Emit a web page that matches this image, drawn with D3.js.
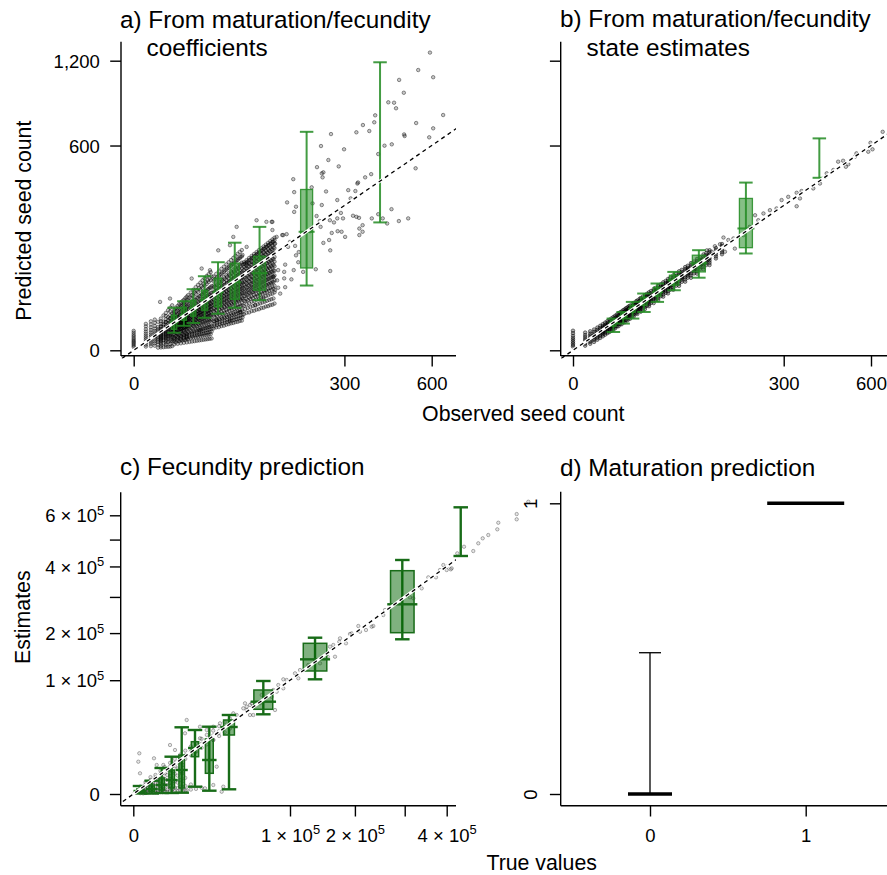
<!DOCTYPE html>
<html><head><meta charset="utf-8">
<script src="https://cdn.jsdelivr.net/npm/d3@7"></script>
<style>
html,body{margin:0;padding:0;background:#fff;}
svg{display:block;}
text{font-family:"Liberation Sans",Arial,Helvetica,sans-serif;}
</style></head><body>
<svg id="chart" width="887" height="875"></svg>
<script>
// ================= DATA =================
const titleA = ["a) From maturation/fecundity", "coefficients"];
const titleB = ["b) From maturation/fecundity", "state estimates"];
const titleC = "c) Fecundity prediction";
const titleD = "d) Maturation prediction";
const labelYTop = "Predicted seed count";
const labelXTop = "Observed seed count";
const labelYBottom = "Estimates";
const labelXBottom = "True values";

const ticksSeedX = [0, 300, 600];
const tickLabelsSeedX = ["0", "300", "600"];
const ticksSeedY = [0, 600, 1200];
const tickLabelsSeedY = ["0", "600", "1,200"];
const ticksTrueX = [0, 1e5, 2e5, 3e5, 4e5];
const tickMantTrueX = [0, 1, 2, null, 4];
const ticksEstY = [0, 1e5, 2e5, 3e5, 4e5, 5e5, 6e5];
const tickMantEstY = [0, 1, 2, null, 4, null, 6];
const ticksMat = [0, 1];
const tickLabelsMat = ["0", "1"];

// ---- panel a: observed vs predicted (coefficients) ----
const cloudObsA = [0,1,2,3,4,5,6,7,8,9,10,11,12,13,14,15,16,17,18,19,20,22,24,26,28,30,32,34,36,38,40,43,46,49,52,55,58,61,64,67,70,73,76,79,82,86,90,94,98,102,106,110,114,118,122,126,130,134];
const cloudPredA = [
[0.15,0.3,0.5,0.75,1,1.3,1.7,2.2,2.8,3.5,4.4,5.4],
[0.2,0.45,0.8,1.2,1.7,2.3,3,3.9,5,6.4,8.2,10],
[0.25,0.6,1,1.5,2.1,2.8,3.6,4.6,5.9,7.5,9.6,12],
[0.3,0.7,1.2,1.8,2.5,3.3,4.2,5.3,6.7,8.5,10.8,13.5],
[0.1,0.5,1,1.45,2,2.6,3.2,4.1,5.3,6.4,7.8,11.6],
[0.12,0.6,1.3,1.8,2.4,3.2,4,5.1,6.5,8.1,9.9,14.4],
[0.14,0.75,1.5,2.2,2.9,3.8,4.9,6,7.9,9.6,11.7,17.4],
[0.17,0.85,1.7,2.5,3.5,4.5,5.6,7.1,9.2,11.3,13.8,20],
[0.18,1,2,2.9,3.9,5.1,6.5,8,10.5,12.8,15.6,23],
[0.2,1.1,2.2,3.2,4.4,5.8,7.3,9.1,11.8,14.4,17.7,26],
[0.25,1.2,2.5,3.6,4.9,6.4,8.1,10,13.3,16.2,19.5,29],
[1.1,2.4,3.9,4.8,6.1,7.2,8,9.3,10.4,11.7,13.1,15.6,19.2,23.5],
[0.9,2.9,4.4,5.3,6.4,7.7,8.8,9.9,11.2,12.6,14.8,17.1,21.4,26],
[1.3,2.6,4.1,5.9,6.8,7.9,9.4,10.5,12,13.3,15.9,18.4,22.8,28.1],
[1.2,3.3,4.9,6.1,7.4,8.6,9.7,11.3,12.6,14.5,16.7,20.2,24.9,30.4],
[1.5,3,5.2,6.6,7.6,9.1,10.5,11.8,13.6,15.2,17.9,21,26.2,32.5],
[1.4,3.8,5.5,6.9,8.3,9.6,11,12.7,14.3,16.4,18.6,22.9,28.3,34.6],
[1.7,3.5,5.9,7.4,8.8,10.2,11.9,13.2,15.3,17.4,19.8,24.1,29.7,36.4],
[1.5,4.2,6.2,7.9,9.2,10.9,12.3,14.1,16.2,18.3,21.2,25.6,31.8,38.9],
[1.9,4,6.7,8.2,9.8,11.4,13,14.9,16.9,19.6,22.3,27,33.1,41.2],
[1.8,4.7,6.9,8.7,10.1,12,13.8,15.5,17.9,20.4,23.6,28.4,35.2,43.5],
[2.1,5.2,7.4,9.6,11.3,13.1,15,17.1,19.6,22.5,25.9,31,38.4,47.8],
[2.3,5.4,8.3,10.4,12.1,14.4,16.6,18.5,21.5,24.4,28.3,34.1,42.2,52.4],
[2.4,6.2,8.9,11.1,13.2,15.5,17.7,20.2,23.1,26.6,30.4,36.5,45.6,57.1],
[2.6,6.5,9.8,12.1,14.3,16.6,19.2,21.6,25,28.5,33,39.6,49,61.3],
[2.8,7.2,10.4,12.8,15.4,17.9,20.4,23.3,26.6,30.7,35.2,42.1,52.8,65.5],
[3,7.4,11.2,13.9,16.3,19.1,21.9,24.8,28.6,32.6,37.7,45.2,56,70],
[3.2,8.1,11.7,14.6,17.5,20.2,23.1,26.5,30.2,34.8,39.9,47.9,59.8,74.3],
[3.3,8.4,12.6,15.6,18.4,21.6,24.6,27.9,32.2,36.8,42.4,50.9,63.1,78.9],
[3.5,9.1,13.1,16.3,19.6,22.7,26,29.7,33.9,38.9,44.6,53.6,66.8,83],
[3.7,9.4,14,17.3,20.5,24,27.5,31.1,35.8,40.8,47.1,56.5,70.2,87.5],
[6.8,12.1,17.2,21.4,25.3,29,33.1,37.2,41.8,46.5,52.3,60.1,68.9,78],
[7.5,13.6,18.1,22.9,26.8,31.1,35.2,39.6,44.7,49.8,55.6,64,73.5,83.5],
[7.7,14.2,19.8,24.1,28.7,33,37.6,42.3,47.4,53.1,59.4,67.8,78.2,89],
[8.4,15.5,20.8,25.8,30.2,35.2,39.8,44.9,50.6,56.2,63,72.1,82.8,95],
[8.7,16.1,22.3,27.1,32.2,37,42.3,47.6,53.3,59.6,66.7,76.3,87.9,100],
[9.4,17.4,23.2,28.9,33.8,39.3,44.6,50.1,56.4,62.8,70.4,80.6,92.6,105.5],
[9.8,18,24.9,30.2,35.7,41.2,47,52.8,59.2,66.1,74,84.6,97.4,111],
[10.4,19.3,25.8,32,37.4,43.4,49.2,55.4,62.2,69.4,77.7,88.9,102,116.5],
[10.7,19.8,27.4,33.2,39.3,45.3,51.7,58,65.2,72.7,81.3,93,107,122],
[11.4,21.2,28.3,35,41,47.5,53.9,60.7,68.1,75.9,85,97.2,111.7,127.5],
[11.6,21.7,29.8,36.3,42.9,49.4,56.3,63.2,71,79.2,88.6,101.3,116.5,133],
[12.3,23,30.8,38.1,44.6,51.6,58.5,66,74,82.5,92.3,105.6,121.3,138.4],
[12.6,23.5,32.4,39.4,46.5,53.5,61,68.6,76.9,85.8,96,109.7,126.2,143.8],
[18.6,28.1,35.2,41.9,48.2,54.7,61.3,68.8,76.3,84.1,91.9,99.6,106.3,111],
[20.1,30.4,37.6,44.1,50.5,57.2,64.1,71.4,79.7,87.6,95.9,103.8,111.2,116.2],
[20.5,31.5,39.8,46.9,53.3,60.4,67.6,75.2,83.4,92,100.6,109,116.4,122],
[22,33.8,41.5,48.6,55.9,62.8,70.5,78.7,87.2,95.8,104.7,113.5,121.6,127.3],
[22.4,34.5,43.6,51,58.1,65.8,73.4,81.8,90.9,100,109.3,118.4,126.7,132.8],
[23.7,36.6,45.1,53.2,60.8,68.4,76.6,85.2,94.6,104,113.6,123,131.8,138],
[24.1,37.2,47.2,55.1,63,71.3,79.5,88.5,98.3,108.2,118.2,128,137.2,143.6],
[25.6,39.3,48.6,57.5,65.7,73.9,82.7,92,102,112.1,122.5,132.7,142.2,148.8],
[26,40.1,50.8,59.4,67.9,76.8,85.6,95.3,105.8,116.3,127.1,137.6,147.5,154.3],
[27.5,42.2,52.1,61.7,70.5,79.3,88.7,98.8,109.5,120.4,131.5,142.4,152.6,159.6],
[27.9,43,54.6,63.6,72.8,82.3,91.7,102,113.3,124.6,136,147.3,157.8,165.1],
[29.3,45.2,55.8,66,75.4,84.8,95,105.7,117,128.7,140.5,152.1,163,170.5],
[29.8,45.9,58.2,67.8,77.6,87.7,97.8,108.8,120.8,132.8,145,157,168.2,176],
[31.3,48.1,59.5,70.2,80.2,90.2,101,112.5,124.5,136.9,149.5,161.9,173.4,181.4]
];
// second pass of panel-a observations filling the gaps of the dense band
const cloudObsA2 = [5,7,9,11,13,15,17,19,21,23,25,27,29,31,33,35,37,39,41,44,47,50,53,56,59,62,65,68,71,74,77,80,84,88,92,96,100,104,108,112,116,120,124,128,132];
const cloudPredA2 = [
[0.3,0.9,1.5,2.1,2.8,3.6,4.5,5.8,8.1,12],
[0.44,1.26,2.1,3,3.9,5.1,6.3,8.1,11.4,16.8],
[0.56,1.6,2.7,3.8,5.1,6.5,8.1,10.4,14.6,21.6],
[0.5,1.35,1.8,2.2,3.5,4.9,6.4,7.7,9,10.6,12.6,15.8,20.9],
[0.6,1.6,2.1,2.6,4.1,5.8,7.5,9.1,10.6,12.5,14.9,18.7,24.8],
[0.7,1.8,2.4,3,4.7,6.7,8.7,10.5,12.3,14.4,17.2,21.6,28.6],
[0.8,2.1,2.7,3.4,5.3,7.6,9.8,11.8,13.9,16.3,19.5,24.5,32.4],
[0.9,2.3,3,3.8,6,8.5,11,13.2,15.6,18.2,21.8,27.4,36.2],
[1,2.6,3.4,4.3,6.6,9.4,12.1,14.6,17.2,20.2,24,30.2,40],
[1.1,2.8,3.7,4.7,7.2,10.3,13.3,16,18.8,22.1,26.3,33.1,43.8],
[1.2,3.1,4,5.1,7.9,11.2,14.5,17.4,20.5,24,28.6,36,47.6],
[1.3,3.3,4.3,5.5,8.5,12.1,15.6,18.8,22.1,25.9,30.9,38.9,51.4],
[1.4,3.6,4.6,5.9,9.1,13,16.8,20.2,23.8,27.8,33.2,41.8,55.2],
[1.5,3.8,5,6.3,9.7,13.9,17.9,21.6,25.4,29.8,35.5,44.6,59],
[1.6,4,5.3,6.7,10.4,14.8,19.1,23,27,31.7,37.8,47.5,62.8],
[1.7,4.3,5.6,7.1,11,15.7,20.2,24.4,28.7,33.6,40.1,50.4,66.6],
[1.8,4.5,5.9,7.5,11.6,16.6,21.4,25.8,30.3,35.5,42.4,53.3,70.4],
[1.9,4.8,6.2,7.9,12.2,17.5,22.5,27.2,31.9,37.4,44.7,56.2,74.3],
[2,5,6.6,8.3,12.9,18.4,23.7,28.6,33.6,39.4,46.9,59,78.1],
[8.5,9.9,11.9,15.8,20.9,25.7,30.7,36,41.8,48.5,57.7,71.5],
[9.1,10.6,12.7,16.9,22.4,27.5,32.8,38.5,44.7,51.8,61.6,76.4],
[9.7,11.3,13.5,18,23.8,29.3,34.9,41,47.6,55.1,65.6,81.3],
[10.3,12,14.3,19.1,25.2,31,36.9,43.4,50.4,58.4,69.5,86.2],
[10.9,12.7,15.1,20.2,26.7,32.8,39,45.9,53.3,61.7,73.4,91.1],
[11.4,13.3,15.9,21.2,28.1,34.5,41.1,48.3,56.1,65,77.3,95.9],
[12,14,16.7,22.3,29.5,36.3,43.2,50.8,59,68.4,81.3,100.8],
[12.6,14.7,17.6,23.4,30.9,38,45.3,53.2,61.8,71.7,85.2,105.7],
[13.2,15.4,18.4,24.5,32.4,39.8,47.4,55.7,64.7,75,89.1,110.6],
[13.8,16,19.2,25.6,33.8,41.5,49.5,58.1,67.5,78.3,93.1,115.4],
[14.4,16.7,20,26.6,35.2,43.3,51.6,60.6,70.4,81.6,97,120.3],
[14.9,17.4,20.8,27.7,36.7,45,53.7,63.1,73.2,84.9,100.9,125.2],
[15.5,18.1,21.6,28.8,38.1,46.8,55.8,65.5,76.1,88.2,104.9,130.1],
[24.5,34.4,42.3,49.8,57.9,66.5,75.8,85.7,96.2,107.3],
[25.7,36,44.4,52.2,60.6,69.7,79.4,89.8,100.8,112.4],
[26.8,37.7,46.4,54.5,63.4,72.9,83,93.8,105.3,117.5],
[28,39.3,48.4,56.9,66.1,76,86.6,97.9,109.9,122.6],
[29.2,41,50.4,59.3,68.9,79.2,90.3,102,114.5,127.7],
[30.3,42.6,52.4,61.7,71.6,82.4,93.9,106.1,119.1,132.8],
[31.5,44.2,54.4,64,74.4,85.5,97.5,110.2,123.6,137.9],
[32.7,45.9,56.5,66.4,77.2,88.7,101.1,114.3,128.2,143],
[33.8,47.5,58.5,68.8,79.9,91.9,104.7,118.3,132.8,148.1],
[35,49.2,60.5,71.1,82.7,95.1,108.3,122.4,137.4,153.2],
[36.2,50.8,62.5,73.5,85.4,98.2,111.9,126.5,142,158.3],
[37.3,52.4,64.5,75.9,88.2,101.4,115.5,130.6,146.5,163.4],
[38.5,54.1,66.5,78.3,90.9,104.6,119.1,134.7,151.1,168.6]
];
const sparseA = [
[593,1268],[547,1124],[606,1067],[476,1046],[493,949],[438,880],[458,877],[465,838],[394,790],[391,744],[647,792],[539,739],[606,705],[355,726],[375,688],[335,680],[263,669],[494,667],[496,657],[590,649],[237,597],[299,578],[425,599],[450,607],[256,518],[284,484],[227,480],[239,448],[243,453],[241,428],[537,474],[404,551],[172,419],[340,403],[362,428],[381,444],[250,361],[311,367],[332,363],[338,398],[174,358],[280,323],[318,330],[159,313],[178,295],[239,302],[449,285],[475,239],[509,249],[290,270],[280,249],[296,249],[260,242],[271,234],[325,259],[335,255],[343,251],[354,224],[344,212],[281,203],[292,201],[265,197],[354,201],[302,184],[344,190],[243,165],[258,174],[261,143],[261,90],[224,94],[383,249],[404,265],[419,249],[434,230],[234,239],[226,258],[216,309],[214,380],[174,274],[210,203],[236,218],[149,190],[158,193],[138,184],[130,236],[130,207],[135,163],[165,168],[161,153],[176,156],[178,129],[184,138],[183,111],[173,92],[194,88],[155,105],[153,88],[141,92],[132,77],[153,74],[139,70],[168,72],[141,56],[155,57],[135,52],[145,46],
[4.7,33.5],[8.9,38.3],[22.7,73.7],[31.2,95.7],[39.3,91.8],[48.3,143],[62.6,158],[67,184],[71.6,218],[86.2,153],[102,242],[119,236],[128.6,236],[151,190],[86.2,108],[76.3,21],[99.4,29],[113.4,38.3],[46.5,12.9],[29.7,5.7],[19,2.5],[62.6,12.9]
];
const binObsA = [11, 17, 24, 34, 48, 69, 107, 202, 410];
const loA  = [4.4, 8.6, 10.7, 15.1, 19.1, 25.9, 35.9, 60, 234];
const q1A  = [6.3, 12.9, 16.6, 22.9, 27.1, 37.3, 51.6, 97, null];
const medA = [11.2, 17.6, 25.3, 35.9, 48.2, 66.3, 85, 201, null];
const q3A  = [17.6, 26.5, 35.9, 51.6, 74.4, 108.6, 126.7, 370, null];
const hiA  = [25.9, 34.4, 53.4, 78.5, 111, 165.7, 218, 683, 1187];

// ---- panel b: observed vs predicted (state estimates) ----
const cloudObsB = [0,1,2,3,4,5,6,7,8,9,10,11,12,14,16,18,20,22,25,28,31,35,39,44,49,55,61,68,76,85,94,104,115,126,138,150];
const cloudPredB = [
[0.2,0.4,0.7,1.1,1.6,2.2,3,4.2,5.5],
[0.3,0.6,0.9,1.3,1.8,2.5,3.3,4.5],
[0.6,1,1.4,1.9,2.5,3.2,4,5.2],
[1,1.5,2,2.6,3.2,4,4.9,6.2],
[1.6,2.2,2.8,3.5,4.2,5,6,7.4],
[2.2,2.9,3.6,4.4,5.2,6.1,7.2,8.6],
[2.8,3.6,4.4,5.3,6.2,7.2,8.4,9.8],
[3.5,4.4,5.3,6.2,7.2,8.3,9.5,11],
[4.2,5.1,6.1,7.1,8.2,9.4,10.7,12.2],
[4.8,5.9,6.9,8,9.2,10.4,11.8,13.4],
[5.5,6.6,7.8,8.9,10.2,11.5,12.9,14.6],
[6.2,7.4,8.6,9.9,11.2,12.5,14,15.8],
[6.9,8.1,9.4,10.8,12.1,13.6,15.1,17],
[8.3,9.7,11.1,12.6,14.1,15.7,17.3,19.3],
[9.7,11.3,12.8,14.5,16.1,17.8,19.6,21.6],
[11.2,12.9,14.6,16.3,18.1,19.9,21.8,24],
[12.7,14.5,16.3,18.2,20.1,22,24,26.3],
[14.2,16.1,18.1,20,22.1,24.1,26.2,28.6],
[16.5,18.6,20.7,22.9,25.1,27.3,29.6,32.1],
[18.9,21.1,23.4,25.8,28.1,30.5,32.9,35.6],
[21.3,23.7,26.1,28.6,31.1,33.6,36.2,39],
[24.5,27.1,29.7,32.4,35.1,37.8,40.6,43.6],
[27.8,30.5,33.3,36.2,39.1,42,45,48.1],
[31.9,34.9,37.9,41,44.1,47.2,50.4,53.7],
[36.1,39.3,42.5,45.8,49.1,52.5,55.9,59.4],
[41.2,44.6,48.1,51.6,55.2,58.8,62.4,66.2],
[46.3,50,53.7,57.4,61.2,65,68.9,72.9],
[52.4,56.3,60.2,64.1,68.2,72.2,76.3,80.6],
[59.4,63.5,67.7,71.9,76.2,80.5,84.8,89.3],
[67.3,71.7,76.2,80.6,85.2,89.8,94.4,99.1],
[75.2,79.9,84.6,89.3,94.1,99,103.8,108.8],
[84.1,89.1,94.1,99.1,104.2,109.3,114.4,119.7],
[94,99.3,104.6,109.9,115.2,120.6,126,131.6],
[104,109.5,115,120.6,126.2,131.8,137.5,143.3],
[120.6,126.3,132,137.8,143.6,149.4],
[131.9,137.7,143.6,149.6,155.6,161.6]
];
const cloudObsB2 = [13,15,17,19,21,24,27,30,33,37,41,46,52,58,64,72,80,89,99,109,120];
const cloudPredB2 = [
[8.16,9.65,10.93,12.15,13.37,14.64,16.21,18.37],
[9.75,11.38,12.77,14.09,15.39,16.75,18.43,20.73],
[11.38,13.13,14.62,16.02,17.41,18.86,20.64,23.07],
[13.02,14.89,16.48,17.97,19.44,20.97,22.84,25.39],
[14.69,16.67,18.34,19.92,21.46,23.07,25.03,27.7],
[17.21,19.35,21.15,22.84,24.49,26.2,28.29,31.13],
[19.77,22.05,23.97,25.77,27.52,29.33,31.54,34.53],
[22.34,24.77,26.8,28.7,30.55,32.46,34.77,37.91],
[24.95,27.51,29.65,31.64,33.58,35.58,38.01,41.28],
[28.44,31.17,33.44,35.56,37.61,39.73,42.29,45.74],
[31.96,34.85,37.25,39.48,41.64,43.86,46.55,50.17],
[36.39,39.46,42.02,44.38,46.68,49.03,51.87,55.68],
[41.74,45.04,47.76,50.28,52.72,55.22,58.23,62.27],
[47.14,50.64,53.52,56.19,58.77,61.4,64.58,68.82],
[52.56,56.25,59.29,62.09,64.8,67.57,70.9,75.34],
[59.83,63.76,66.99,69.97,72.85,75.78,79.3,84],
[67.14,71.3,74.72,77.86,80.89,83.98,87.68,92.62],
[75.41,79.82,83.43,86.75,89.95,93.2,97.1,102.3],
[84.64,89.3,93.12,96.63,100,103.4,107.5,113],
[93.9,98.8,102.8,106.5,110,113.6,117.9,123.7],
[104.1,109.3,113.5,117.4,121.1,124.9,129.4,135.4]
];
const cloudObsB3 = [6,8,10,13,16,20,24,29,34,40,47,54,62,71,80,90,100,112,124];
const cloudPredB3 = [
[4.84,5.52,6.25,7.02],[6.65,7.44,8.28,9.17],[8.48,9.38,10.32,11.3],[11.26,12.29,13.37,14.49],
[14.06,15.21,16.4,17.64],[17.83,19.11,20.45,21.83],[21.61,23.03,24.49,26],[26.37,27.93,29.54,31.19],
[31.15,32.84,34.59,36.37],[36.9,38.75,40.64,42.58],[43.64,45.64,47.69,49.79],[50.38,52.53,54.73,56.97],
[58.13,60.44,62.79,65.19],[66.85,69.32,71.84,74.41],[75.59,78.22,80.89,83.61],[85.32,88.12,90.95,93.84],
[95.06,98.01,101,104],[106.8,109.9,113.1,116.3],[118.5,121.8,125.1,128.5]
];
const sparseB = [
[648,683],[598,616],[606,578],[589,564],[543,555],[537,536],[493,514],[475,509],[512,495],[503,482],[458,465],[435,448],[390,375],[412,398],[353,363],[338,355],[348,330],[338,297],[313,337],[294,323],[280,288],[262,281],[245,268],[232,242],[224,261],[211,218],[196,190],[174,179],[163,174],[153,182],[146,161],[136,155],[130,139],[121,143],[177,148],[156,139]
];
const binObsB = [11, 17, 24, 34, 48, 69, 107, 202, 410];
const loB  = [4.8, 10.2, 14.4, 21.0, 33.5, 51.6, 75.4, 134.1, 425.8];
const q1B  = [8.3, 14.2, 20.7, 29.0, 41.8, 60.6, 87.9, 150.7, null];
const medB = [11.0, 16.6, 24.7, 34.4, 48.2, 70.3, 108.6, 212.4, null];
const q3B  = [12.9, 19.1, 29.0, 40.3, 56.9, 80.7, 129.4, 330, null];
const hiB  = [14.4, 21.0, 33.5, 46.1, 63.8, 87.9, 143.4, 402.5, 642.6];

// ---- panel c: fecundity true vs estimates ----
const cloudObsC = [200,400,600,900,1200,1600,2000,2500,3000,3500,4000,4700,5500,6200,7000,8000,9000,10000,11000,13500,16000,19000,22000,26000,30000,34000,38000];
const cloudPredC = [
[5,30,120,260,450],
[3,20,80,200,350],
[10,60,200,450,700,1100],
[8,40,150,350,600,900],
[15,90,300,700,1100,1500,2200],
[12,60,250,600,1000,1500],
[20,120,400,900,1600,2100,2800],
[18,90,350,800,1500,2300],
[30,150,500,1300,2400,3100,4200],
[25,120,450,1100,2000,3300],
[40,200,700,1800,3300,4200,5600],
[35,160,600,1500,2800,4500],
[50,250,900,2500,4500,5800,7500],
[45,220,800,2000,3800,6000],
[60,300,1200,3200,6000,7400,9500],
[60,280,1000,2600,5000,7800],
[80,400,1500,4000,7800,9500,12000],
[70,350,1300,3300,6500,9800],
[100,500,2000,9500,11500,14500],
[150,700,11800,14000,17500],
[200,13800,16500,20000],
[300,16500,19500,23500],
[19000,22500,27000],
[22500,26500,31000],
[26000,30500,35500],
[29500,34500,40000],
[33000,38500,44000]
];
const sparseC = [
[635500,659800],[598600,605400],[598600,582800],[542600,568400],[539600,541100],[513200,518100],[497200,505000],[484700,485400],[470700,456000],[445400,472300],[427500,447400],[412800,393400],[399900,399000],[391400,405000],[399900,387500],[410300,389900],[383000,387500],[373100,362600],[354400,362600],[338700,326700],[319300,295800],[311800,298800],[258000,261500],[254500,247400],[234600,218000],[231400,216200],[220500,207700],[206200,218000],[209300,203400],[191200,197700],[194200,199400],[184200,175400],[174000,187200],[172800,179100],[162900,171500],[157600,167600],[165700,145600],[153900,145600],[142000,131900],[134400,138700],[124700,128500],[113200,118700],[106500,112500],[110900,103400],[95850,100400],[91630,101600],[85620,91750],[83750,80830],[79810,83520],[78010,73120],[91630,86260],[81800,54480],[67130,75680],[65380,63550],[57070,63550],[55460,61160],[50810,63550],[52350,54480],[58660,48180],[55460,48180],[49280,56740],[40720,50310],[43550,48180],[52350,58850],
[147,12790],[102,8060],[183,3310],[1745,9840],[2230,6500],[5490,18540],[3665,6500],[7080,14950],[11610,42290],[10890,28450],[15500,13820],[18120,34980],[21940,31630],[26060,22520],[29420,28450],[30610,38600],[26060,34980],[28330,5755],[18120,23960],[9540,3310],[11610,124],[31820,41],[26060,625],[20930,251],[32980,412]
];
const binObsC = [183, 1379, 3284, 6006, 9542, 15500, 23530, 37300, 68840, 134500, 294700, 436600];
const loC  = [2, 2, 8, 8, 13, 412, 84, 171, 49070, 101600, 184900, 437600];
const q1C  = [17, 48, 124, 278, 278, 10750, 3310, 26890, 55420, 116900, 201000, null];
const medC = [70, 193, 626, 1514, 4449, 16340, 8930, 34680, 65800, 140100, 278000, null];
const q3C  = [193, 626, 1978, 4449, 11750, 21130, 23370, 42300, 83540, 175400, 385200, null];
const hiC  = [494, 1367, 5222, 10750, 34370, 31640, 34980, 48210, 98640, 188700, 423000, 634900];

// ---- panel d: maturation ----
const matGroups = [0, 1];
const matMedian = [0, 1];
const matUpper = [0.486, null];

// ================= DRAWING =================
const svg = d3.select("#chart");
const defs = svg.append("defs");
const FS_TICK = 18.5, FS_LAB = 21.3, FS_TITLE = 24.3, AXW = 1.4, TICK = 10.8;

function addClip(id, x0, y0, x1, y1) {
  defs.append("clipPath").attr("id", id).append("rect")
    .attr("x", x0).attr("y", y0).attr("width", x1 - x0).attr("height", y1 - y0);
}
const flatten = (obs, preds) => obs.flatMap((o, i) => preds[i].map(p => [o, p]));

function pointsLayer(g, xs, ys, pts, st) {
  g.append("g").selectAll("circle").data(pts).join("circle")
    .attr("cx", d => xs(d[0])).attr("cy", d => ys(d[1])).attr("r", st.r)
    .attr("fill", st.fill).attr("stroke", st.stroke).attr("stroke-width", st.sw);
}

function boxesLayer(g, xs, ys, obs, lo, q1, med, q3, hi, st) {
  const px = obs.map(o => xs(o));
  const bins = obs.map((o, i) => {
    const gaps = [];
    if (i > 0) gaps.push(px[i] - px[i - 1]);
    if (i < px.length - 1) gaps.push(px[i + 1] - px[i]);
    return {x: px[i], w: Math.min(st.maxW, st.frac * Math.min(...gaps)),
            lo: lo[i], q1: q1[i], med: med[i], q3: q3[i], hi: hi[i]};
  });
  const gb = g.append("g");
  gb.selectAll("line.wh").data(bins).join("line").attr("class", "wh")
    .attr("x1", d => d.x).attr("x2", d => d.x)
    .attr("y1", d => ys(d.lo)).attr("y2", d => ys(d.hi))
    .attr("stroke", st.stroke).attr("stroke-width", st.whW);
  const wb = bins.filter(d => d.q1 != null);
  gb.selectAll("rect.bx").data(wb).join("rect").attr("class", "bx")
    .attr("x", d => d.x - d.w / 2).attr("width", d => d.w)
    .attr("y", d => ys(d.q3)).attr("height", d => ys(d.q1) - ys(d.q3))
    .attr("fill", st.fill).attr("stroke", st.stroke).attr("stroke-width", st.boxW);
  gb.selectAll("line.md").data(wb).join("line").attr("class", "md")
    .attr("x1", d => d.x - d.w / 2 - st.medExt).attr("x2", d => d.x + d.w / 2 + st.medExt)
    .attr("y1", d => ys(d.med)).attr("y2", d => ys(d.med))
    .attr("stroke", st.stroke).attr("stroke-width", st.medW);
  const caps = bins.flatMap(d => [{x: d.x, v: d.lo}, {x: d.x, v: d.hi}]);
  gb.selectAll("line.cp").data(caps).join("line").attr("class", "cp")
    .attr("x1", d => d.x - st.capW / 2).attr("x2", d => d.x + st.capW / 2)
    .attr("y1", d => ys(d.v)).attr("y2", d => ys(d.v))
    .attr("stroke", st.stroke).attr("stroke-width", st.whW);
}

function diagLine(g, xs, ys, clipId, vmin, vmax) {
  const line = d3.line().x(d => xs(d)).y(d => ys(d));
  const gl = g.append("g").attr("clip-path", `url(#${clipId})`);
  gl.append("path").datum([vmin, vmax]).attr("d", line)
    .attr("fill", "none").attr("stroke", "#fff").attr("stroke-width", 3.2);
  gl.append("path").datum([vmin, vmax]).attr("d", line)
    .attr("fill", "none").attr("stroke", "#000").attr("stroke-width", 1.3)
    .attr("stroke-dasharray", "4,3.6");
}

function styleAxis(ga) {
  ga.attr("font-family", null).attr("font-size", null);
  ga.select(".domain").remove();
  ga.selectAll(".tick line").attr("stroke", "#000").attr("stroke-width", AXW);
  ga.selectAll(".tick text").attr("fill", "#000").attr("font-size", FS_TICK);
}
function yAxis(g, scale, x, ticks, fmt, pad) {
  const ga = g.append("g").attr("transform", `translate(${x},0)`)
    .call(d3.axisLeft(scale).tickValues(ticks).tickSize(TICK).tickSizeOuter(0).tickPadding(pad).tickFormat(fmt));
  styleAxis(ga);
  ga.selectAll(".tick text").attr("dy", "0.36em");
  return ga;
}
function xAxis(g, scale, y, ticks, fmt, pad) {
  const ga = g.append("g").attr("transform", `translate(0,${y})`)
    .call(d3.axisBottom(scale).tickValues(ticks).tickSize(TICK).tickSizeOuter(0).tickPadding(pad).tickFormat(fmt));
  styleAxis(ga);
  return ga;
}
function axisLine(g, x1, y1, x2, y2) {
  g.append("line").attr("x1", x1).attr("y1", y1).attr("x2", x2).attr("y2", y2)
    .attr("stroke", "#000").attr("stroke-width", AXW);
}
function sciText(sel, mants) {
  sel.each(function(d, i) {
    const m = mants[i];
    const t = d3.select(this);
    t.text(null);
    if (m == null) return;
    if (m === 0) { t.text("0"); return; }
    t.append("tspan").text(m + " \u00d7 10");
    t.append("tspan").attr("font-size", "0.7em").attr("dy", "-0.55em").text("5");
  });
}
function title(g, lines, x, y, indent) {
  lines.forEach((s, i) => {
    g.append("text").attr("x", i === 0 ? x : x + indent).attr("y", y + i * 28.8)
      .attr("font-size", FS_TITLE).attr("fill", "#000").text(s);
  });
}

const ptsStyleTop = {r: 1.75, fill: "rgba(0,0,0,0.22)", stroke: "rgba(0,0,0,0.55)", sw: 0.75};
const ptsStyleB = {r: 1.75, fill: "rgba(0,0,0,0.3)", stroke: "rgba(0,0,0,0.65)", sw: 0.75};
const ptsStyleC = {r: 1.7, fill: "rgba(0,0,0,0.1)", stroke: "rgba(0,0,0,0.42)", sw: 0.7};
const boxStyleTop = {stroke: "rgba(34,139,34,0.85)", fill: "rgba(34,139,34,0.55)", maxW: 12, frac: 0.55, capW: 13.5, medExt: 2, whW: 2, boxW: 1.3, medW: 2};
const boxStyleB = Object.assign({}, boxStyleTop, {maxW: 13});
const boxStyleC = {stroke: "rgb(24,108,24)", fill: "rgba(0,100,0,0.5)", maxW: 23.5, frac: 0.55, capW: 14.5, medExt: 3.3, whW: 2.4, boxW: 1.5, medW: 2.4};

// ---------- Panel A ----------
const xA = d3.scaleSqrt().domain([0, 600]).range([133.7, 431.7]);
const yA = d3.scaleSqrt().domain([0, 1200]).range([350.3, 60.7]);
addClip("clipA", 120, 42, 456, 358.5);
const gA = svg.append("g");
pointsLayer(gA, xA, yA,
  flatten(cloudObsA, cloudPredA).concat(flatten(cloudObsA2, cloudPredA2)).concat(sparseA), ptsStyleTop);
boxesLayer(gA, xA, yA, binObsA, loA, q1A, medA, q3A, hiA, boxStyleTop);
diagLine(gA, xA, yA, "clipA", -4, 2000);
axisLine(gA, 121, 41.7, 121, 356);
axisLine(gA, 121, 355.7, 456, 355.7);
yAxis(gA, yA, 121, ticksSeedY, (d, i) => tickLabelsSeedY[i], 10.3);
xAxis(gA, xA, 355.7, ticksSeedX, (d, i) => tickLabelsSeedX[i], 10.2);
title(gA, titleA, 120, 27.5, 26.5);

// ---------- Panel B ----------
const xB = d3.scaleSqrt().domain([0, 600]).range([573, 871]);
addClip("clipB", 559.7, 42, 896, 358.5);
const gB = svg.append("g");
pointsLayer(gB, xB, yA,
  flatten(cloudObsB, cloudPredB).concat(flatten(cloudObsB2, cloudPredB2))
    .concat(flatten(cloudObsB3, cloudPredB3)), ptsStyleB);
pointsLayer(gB, xB, yA, sparseB, ptsStyleTop);
boxesLayer(gB, xB, yA, binObsB, loB, q1B, medB, q3B, hiB, boxStyleB);
diagLine(gB, xB, yA, "clipB", -4, 2000);
axisLine(gB, 560.7, 41.7, 560.7, 356);
axisLine(gB, 560.7, 355.7, 896, 355.7);
yAxis(gB, yA, 560.7, ticksSeedY, () => "", 10.3);
xAxis(gB, xB, 355.7, ticksSeedX, (d, i) => tickLabelsSeedX[i], 10.2);
title(gB, titleB, 560, 27, 26.5);

// shared labels (top row)
svg.append("text").attr("transform", "translate(30.5,220.7) rotate(-90)")
  .attr("text-anchor", "middle").attr("font-size", FS_LAB).text(labelYTop);
svg.append("text").attr("x", 523.3).attr("y", 421).attr("text-anchor", "middle")
  .attr("font-size", FS_LAB).text(labelXTop);

// ---------- Panel C ----------
const xC = d3.scaleSqrt().domain([0, 4e5]).range([133.3, 446.7]);
const yC = d3.scaleSqrt().domain([0, 6e5]).range([794, 515.3]);
addClip("clipC", 120.7, 492.3, 456, 805.7);
const gC = svg.append("g");
pointsLayer(gC, xC, yC, flatten(cloudObsC, cloudPredC).concat(sparseC), ptsStyleC);
boxesLayer(gC, xC, yC, binObsC, loC, q1C, medC, q3C, hiC, boxStyleC);
diagLine(gC, xC, yC, "clipC", -5000, 1e6);
axisLine(gC, 120.7, 492.3, 120.7, 805.7);
axisLine(gC, 120.7, 805.7, 456, 805.7);
const cy = yAxis(gC, yC, 120.7, ticksEstY, () => "", 10);
sciText(cy.selectAll(".tick text"), tickMantEstY);
cy.selectAll(".tick text").filter((d, i) => tickMantEstY[i]).attr("x", -16.4);
const cx = xAxis(gC, xC, 805.7, ticksTrueX, () => "", 11.9);
sciText(cx.selectAll(".tick text"), tickMantTrueX);
title(gC, [titleC], 120, 475, 0);

// ---------- Panel D ----------
const xD = d3.scaleLinear().domain([0, 1]).range([650, 805.7]);
const yD = d3.scaleLinear().domain([0, 1]).range([794, 503.3]);
const gD = svg.append("g");
const dWidths = [44, 77];
const matData = matGroups.map((gv, i) => ({g: gv, med: matMedian[i], up: matUpper[i], w: dWidths[i]}));
const matWh = matData.filter(d => d.up != null);
gD.selectAll("line.mw").data(matWh).join("line").attr("class", "mw")
  .attr("x1", d => xD(d.g)).attr("x2", d => xD(d.g)).attr("y1", d => yD(d.med)).attr("y2", d => yD(d.up))
  .attr("stroke", "#000").attr("stroke-width", 1.3);
gD.selectAll("line.mc").data(matWh).join("line").attr("class", "mc")
  .attr("x1", d => xD(d.g) - 11).attr("x2", d => xD(d.g) + 11).attr("y1", d => yD(d.up)).attr("y2", d => yD(d.up))
  .attr("stroke", "#000").attr("stroke-width", 1.3);
gD.selectAll("line.mm").data(matData).join("line").attr("class", "mm")
  .attr("x1", d => xD(d.g) - d.w / 2).attr("x2", d => xD(d.g) + d.w / 2)
  .attr("y1", d => yD(d.med)).attr("y2", d => yD(d.med))
  .attr("stroke", "#000").attr("stroke-width", 3.6);
axisLine(gD, 560.7, 491.7, 560.7, 805.7);
axisLine(gD, 560.7, 805.7, 896, 805.7);
const dy = yAxis(gD, yD, 560.7, ticksMat, (d, i) => tickLabelsMat[i], 10);
dy.selectAll(".tick text").attr("transform", "rotate(-90)").attr("x", 0).attr("y", -24.2)
  .attr("dy", 0).attr("text-anchor", "middle");
xAxis(gD, xD, 805.7, ticksMat, (d, i) => tickLabelsMat[i], 11.9);
title(gD, [titleD], 560, 476, 0);

svg.append("text").attr("transform", "translate(30,617.2) rotate(-90)")
  .attr("text-anchor", "middle").attr("font-size", FS_LAB).text(labelYBottom);
svg.append("text").attr("x", 541.7).attr("y", 870.3).attr("text-anchor", "middle")
  .attr("font-size", FS_LAB).text(labelXBottom);
</script>
</body></html>
